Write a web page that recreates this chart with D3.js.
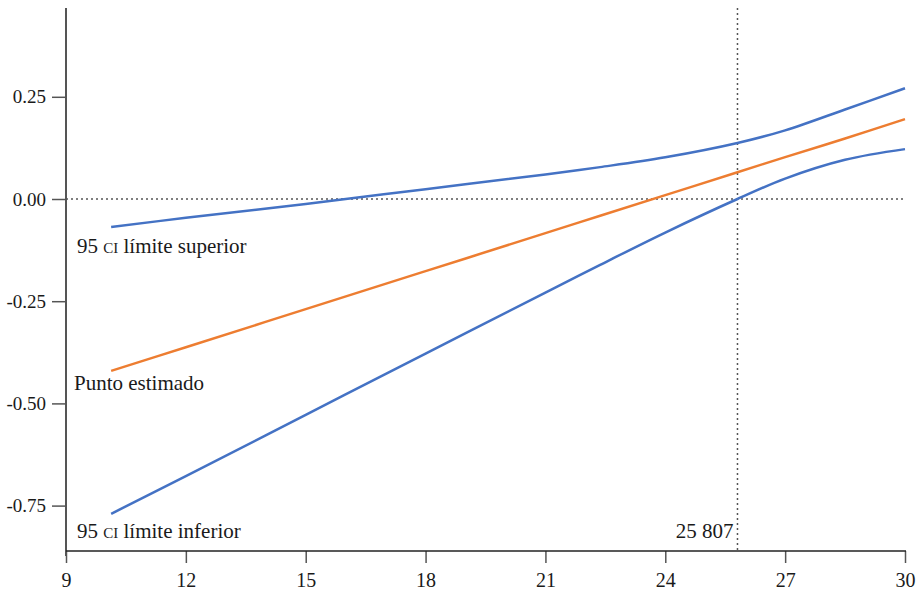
<!DOCTYPE html>
<html><head><meta charset="utf-8">
<script src="https://cdn.jsdelivr.net/npm/d3@7"></script>
<style>
body{margin:0;background:#fff;}
text{font-family:"Liberation Serif","DejaVu Serif",serif;fill:#1a1a1a;}
</style></head>
<body><svg id="c" width="920" height="595"></svg>
<script>
const xValues = [10.13, 12, 15, 18, 21, 22.37, 24, 25.807, 27, 28.5, 30];
const estimate = [-0.4205, -0.3625, -0.2695, -0.1765, -0.0835, -0.041, 0.0095, 0.0655, 0.1025, 0.1480, 0.1955];
const upper = [-0.0685, -0.046, -0.012, 0.024, 0.060, 0.078, 0.102, 0.137, 0.168, 0.219, 0.271];
const lower = [-0.770, -0.678, -0.528, -0.378, -0.229, -0.161, -0.082, 0.0, 0.050, 0.096, 0.122];
const xTicks = [9, 12, 15, 18, 21, 24, 27, 30];
const yTicks = [0.25, 0, -0.25, -0.5, -0.75];
const threshold = 25.807;
const thresholdLabel = "25 807";

const svg = d3.select("#c");
const x = d3.scaleLinear().domain([9, 30]).range([66, 905]);
const y = d3.scaleLinear().domain([0, 0.25]).range([199, 96.8]);
const axisColor = "#555";

// y axis
const ya = svg.append("g").attr("transform","translate(66,0)")
  .call(d3.axisLeft(y).tickValues(yTicks).tickSize(14).tickPadding(6)
    .tickFormat(d => d3.format(".2f")(d).replace("\u2212","-")));
ya.attr("font-size", null).attr("font-family", null);
ya.select(".domain").remove();
ya.selectAll("line").attr("stroke", axisColor).attr("stroke-width",1.5);
ya.selectAll("text").attr("font-size",19).attr("fill","#1a1a1a");
svg.append("line").attr("x1",66).attr("x2",66).attr("y1",8).attr("y2",556)
  .attr("stroke",axisColor).attr("stroke-width",2);

// x axis
const xa = svg.append("g").attr("transform","translate(0,551)")
  .call(d3.axisBottom(x).tickValues(xTicks).tickSize(12).tickPadding(10).tickFormat(d3.format("d")));
xa.attr("font-size", null).attr("font-family", null);
xa.select(".domain").remove();
xa.selectAll("line").attr("stroke", axisColor).attr("stroke-width",1.5);
xa.selectAll("text").attr("font-size",20).attr("fill","#1a1a1a");
svg.append("line").attr("x1",66).attr("x2",906).attr("y1",551).attr("y2",551)
  .attr("stroke","#222").attr("stroke-width",1.5);

// reference lines
svg.append("line").attr("x1",66).attr("x2",905).attr("y1",y(0)).attr("y2",y(0))
  .attr("stroke","#555").attr("stroke-width",1.5).attr("stroke-dasharray","2,3");
svg.append("line").attr("x1",x(threshold)).attr("x2",x(threshold)).attr("y1",8).attr("y2",551)
  .attr("stroke","#555").attr("stroke-width",1.5).attr("stroke-dasharray","2,3");

const line = vals => d3.line().curve(d3.curveCatmullRom)
  .x((d,i)=>x(xValues[i])).y(d=>y(d))(vals);
svg.append("path").attr("d", line(upper)).attr("fill","none").attr("stroke","#4472C4").attr("stroke-width",2.5);
svg.append("path").attr("d", line(lower)).attr("fill","none").attr("stroke","#4472C4").attr("stroke-width",2.5);
svg.append("path").attr("d", line(estimate)).attr("fill","none").attr("stroke","#ED7D31").attr("stroke-width",2.5);

function ciLabel(xp, yp, rest){
  const t = svg.append("text").attr("x",xp).attr("y",yp).attr("font-size",21);
  t.append("tspan").text("95 ");
  t.append("tspan").style("font-variant","small-caps").text("ci");
  t.append("tspan").text(" " + rest);
}
ciLabel(77, 253, "límite superior");
svg.append("text").attr("x",74).attr("y",390).attr("font-size",21).text("Punto estimado");
ciLabel(77, 538, "límite inferior");
svg.append("text").attr("x",x(threshold)-4).attr("y",538).attr("text-anchor","end").attr("font-size",21).text(thresholdLabel);
</script></body></html>
